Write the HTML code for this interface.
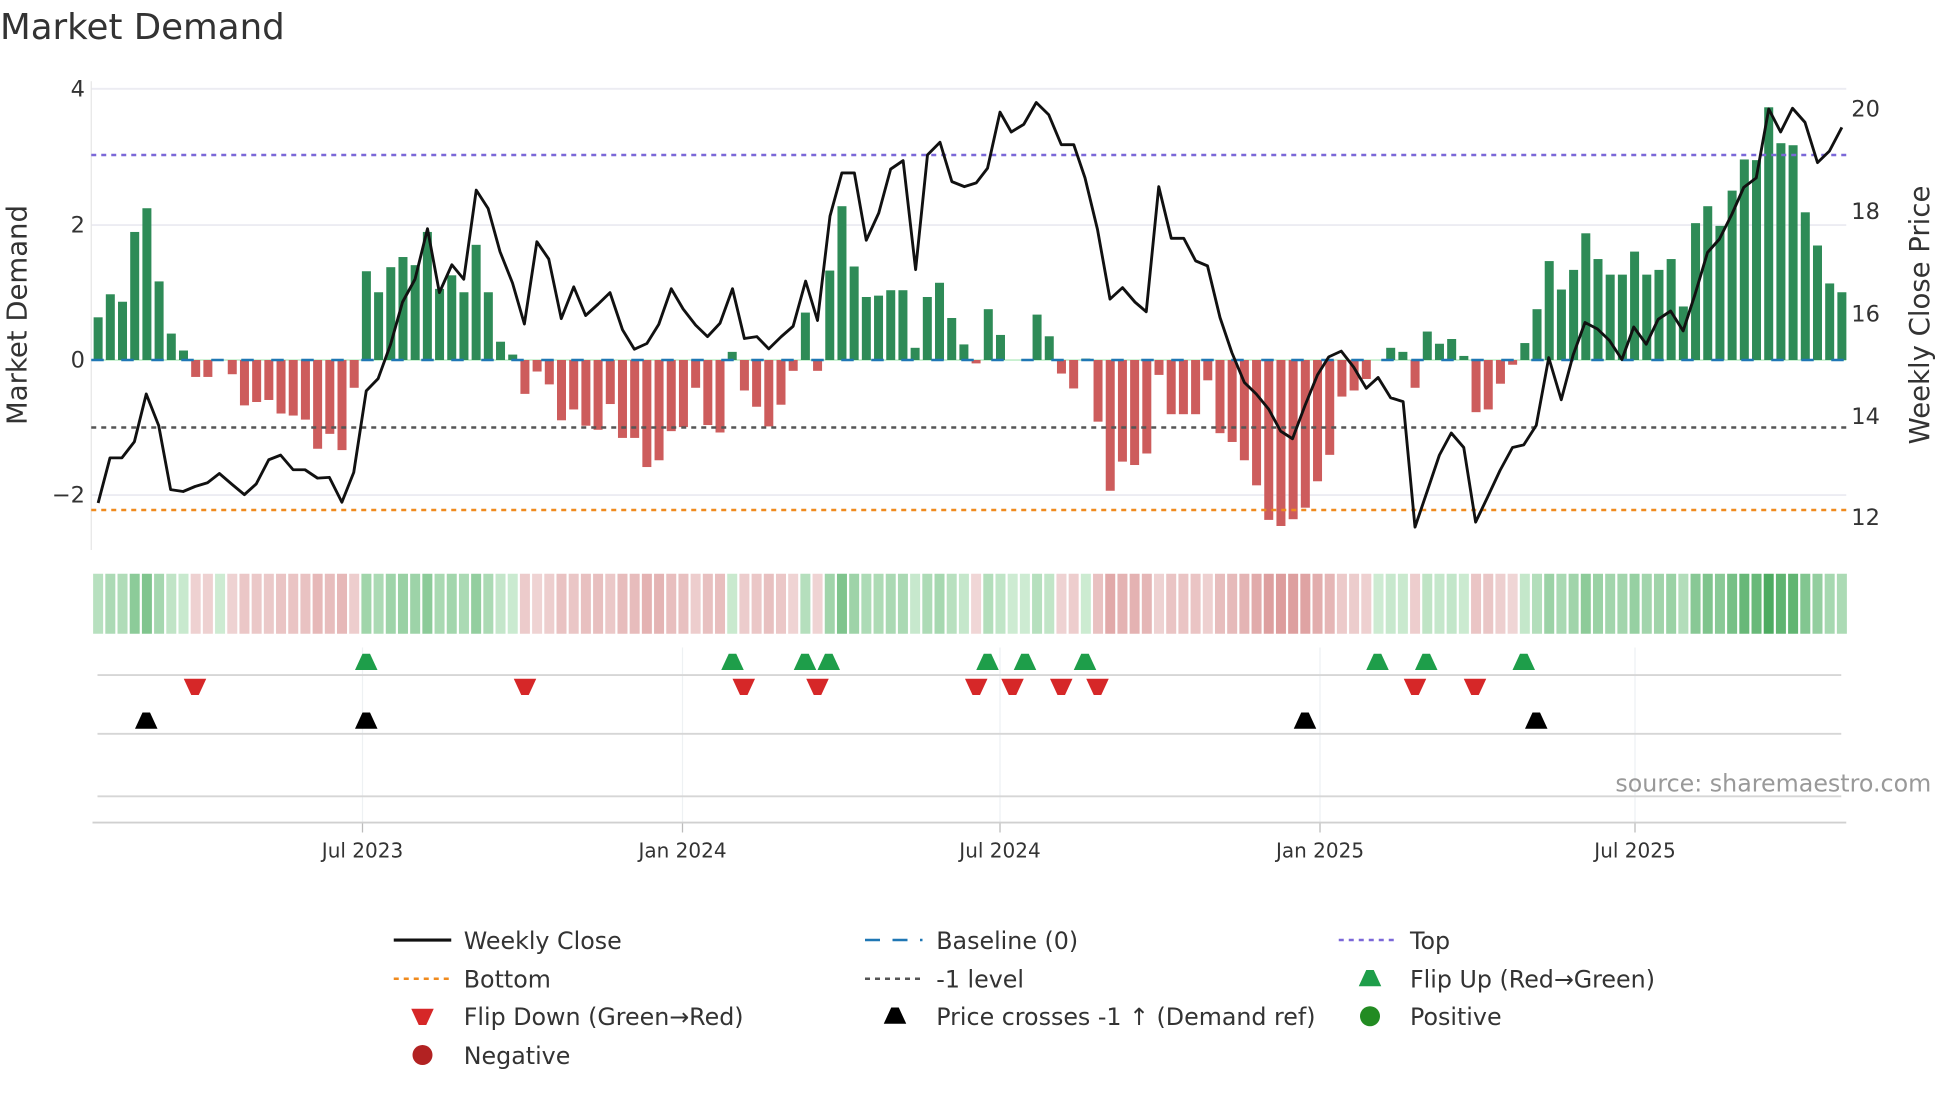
<!DOCTYPE html>
<html><head><meta charset="utf-8"><style>
html,body{margin:0;padding:0;background:#fff;}
svg{display:block;font-family:"DejaVu Sans","Liberation Sans",sans-serif;}
</style></head><body>
<svg id="s" width="1960" height="1102" viewBox="0 0 1568 881.6" xmlns="http://www.w3.org/2000/svg"></svg>
<script>
var s=document.getElementById('s');var h='';
function T(x,y,t,sz,fill,anch,extra){h+='<text x="'+x+'" y="'+y+'" font-size="'+sz+'" fill="'+(fill||'#333')+'" text-anchor="'+(anch||'start')+'" '+(extra||'')+'>'+t+'</text>';}
function L(x1,y1,x2,y2,st,w,da){h+='<line x1="'+x1+'" y1="'+y1+'" x2="'+x2+'" y2="'+y2+'" stroke="'+st+'" stroke-width="'+(w||1)+'"'+(da?' stroke-dasharray="'+da+'"':'')+'/>';}
T(0,31,'Market Demand',28.5,'#333');
[71,180,396].forEach(function(y){L(73,y,1477,y,'#ececf2',1.5);});
L(73,65,73,440,'#e6e6e6',1);
var vals=[0.63,0.97,0.86,1.89,2.24,1.16,0.39,0.14,-0.25,-0.25,0,-0.21,-0.67,-0.62,-0.59,-0.79,-0.82,-0.88,-1.31,-1.09,-1.33,-0.41,
1.31,1.0,1.37,1.52,1.4,1.89,1.05,1.25,1.0,1.7,1.0,0.27,0.08,
-0.5,-0.17,-0.36,-0.89,-0.73,-0.97,-1.03,-0.65,-1.15,-1.15,-1.58,-1.48,-1.05,-0.99,-0.41,-0.96,-1.07,
0.12,-0.45,-0.69,-0.98,-0.66,-0.16,
0.7,-0.16,1.32,2.27,1.38,0.93,0.95,1.03,1.03,0.18,0.93,1.14,0.62,0.23,-0.05,
0.75,0.37,0,0,0.67,0.35,-0.2,-0.42,0.02,-0.91,-1.93,-1.5,-1.55,-1.38,-0.22,-0.8,-0.8,-0.8,-0.3,-1.08,-1.21,-1.48,-1.85,-2.36,-2.45,-2.35,-2.18,-1.79,-1.4,-0.54,-0.45,-0.28,0,0.18,0.12,-0.41,0.42,0.24,0.31,0.06,-0.77,-0.73,-0.35,-0.07,0.25,0.75,1.46,1.04,1.33,1.87,1.49,1.26,1.26,1.6,1.26,1.33,1.49,0.79,2.02,2.27,1.98,2.5,2.96,2.95,3.73,3.2,3.17,2.18,1.69,1.13,1.0];
var n=vals.length,x0=78.5,step=1395/(n-1),Y0=288,U=54.2;
L(73,Y0,1477,Y0,'#c8f0d0',1.5);
for(var i=0;i<n;i++){var v=vals[i],x=x0+i*step,y=Y0-v*U;
 var c=v>=0?'#2e8b57':'#cd5c5c';
 if(Math.abs(v)>0.005)h+='<rect x="'+(x-3.6)+'" y="'+Math.min(y,Y0)+'" width="7.2" height="'+Math.abs(v*U)+'" fill="'+c+'"/>';
 var a=Math.min(Math.abs(v)/3.8,1);var col;
 if(v>=0){var r=Math.round(205-a*130),g=Math.round(235-a*65),b=Math.round(210-a*115);col='rgb('+r+','+g+','+b+')';}
 else{var r=Math.round(240-a*30),g=Math.round(215-a*90),b=Math.round(215-a*90);col='rgb('+r+','+g+','+b+')';}
 h+='<rect x="'+(x-4)+'" y="459" width="8" height="48" fill="'+col+'"/>';
}
L(73,Y0,1477,Y0,'#1f77b4',2,'10,14');
L(73,124,1477,124,'#7b68d8',2,'4,4');
L(73,342,1477,342,'#555',2,'4,4');
L(73,408,1477,408,'#ef8a1e',2,'4,4');
var lp=[[157,1315],[176,1197],[195,1197],[215,1155],[234,1030],[254,1113],[273,1280],[293,1285],[312,1272],[332,1262],[351,1238],[371,1266],[391,1293],[410,1265],[430,1202],[449,1190],[469,1228],[488,1228],[508,1250],[527,1248],[547,1313],[566,1235],[586,1022],[605,990],[625,900],[644,790],[664,730],[684,598],[703,765],[723,692],[742,730],[762,497],[781,545],[800,658],[820,740],[839,847],[859,632],[878,677],[898,833],[918,750],[937,825],[957,795],[976,765],[996,862],[1015,913],[1035,898],[1054,848],[1074,755],[1093,808],[1113,850],[1132,880],[1152,845],[1172,755],[1191,885],[1211,880],[1230,912],[1250,880],[1269,853],[1289,735],[1308,838],[1328,565],[1347,452],[1367,452],[1386,628],[1406,557],[1425,442],[1445,420],[1465,705],[1484,405],[1504,372],[1523,475],[1543,488],[1562,478]];
var rp=[[12,440],[32,293],[50,345],[70,325],[90,268],[110,300],[130,378],[150,378],[168,465],[188,600],[208,782],[228,752],[248,790],[266,815],[286,488],[306,623],[326,623],[345,682],[364,695],[384,830],[403,922],[423,1000],[442,1030],[462,1070],[481,1127],[500,1147],[520,1060],[540,980],[558,933],[578,918],[598,960],[618,1015],[637,987],[657,1040],[677,1050],[696,1378],[716,1282],[735,1190],[754,1132],[774,1170],[793,1365],[812,1300],[832,1230],[852,1170],[870,1163],[890,1112],[910,935],[930,1045],[949,928],[968,843],[988,860],[1007,890],[1027,940],[1046,855],[1066,900],[1085,835],[1105,813],[1125,865],[1144,770],[1164,660],[1183,625],[1203,560],[1222,490],[1242,465],[1262,285],[1281,345],[1300,283],[1320,320],[1340,425],[1359,395],[1379,333]];
var pts=lp.map(function(p){return (p[0]*0.5).toFixed(1)+','+(p[1]*0.306).toFixed(1);}).concat(rp.map(function(p){return (784+p[0]*0.5).toFixed(1)+','+(p[1]*0.306).toFixed(1);}));
h+='<polyline points="'+pts.join(' ')+'" fill="none" stroke="#111" stroke-width="2.3" stroke-linejoin="round"/>';
[[4,71],[2,180],[0,288],['−2',396]].forEach(function(a){T(68,a[1]+6,a[0],18,'#333','end');});
[[20,87],[18,169],[16,251],[14,333],[12,414]].forEach(function(a){T(1481,a[1]+6,a[0],18,'#333','start');});
T(0,0,'Market Demand',22,'#333','middle','transform="translate(21,252) rotate(-90)"');
T(0,0,'Weekly Close Price',22,'#333','middle','transform="translate(1543,252) rotate(-90)"');
var dx=[290,546,800,1056,1308],dl=['Jul 2023','Jan 2024','Jul 2024','Jan 2025','Jul 2025'];
dx.forEach(function(x,i){L(x,518,x,658,'#eef1f3',1);L(x,658,x,666,'#bbb',1);T(x,686,dl[i],16,'#333','middle');});
L(78,540,1473,540,'#d6d6d6',1.5);L(78,587,1473,587,'#d6d6d6',1.5);L(78,637,1473,637,'#d6d6d6',1.5);L(74,658,1477,658,'#d0d0d0',1.5);
function up(x,y,c){h+='<polygon points="'+(x-9)+','+(y+6)+' '+(x+9)+','+(y+6)+' '+(x+3)+','+(y-7)+' '+(x-3)+','+(y-7)+'" fill="'+c+'"/>';}
function dn(x,y,c){h+='<polygon points="'+(x-9)+','+(y-6)+' '+(x+9)+','+(y-6)+' '+(x+3)+','+(y+7)+' '+(x-3)+','+(y+7)+'" fill="'+c+'"/>';}
[293,586,644,663,790,820,868,1102,1141,1219].forEach(function(x){up(x,530,'#1e9e4a');});
[156,420,595,654,781,810,849,878,1132,1180].forEach(function(x){dn(x,549,'#d62728');});
[117,293,1044,1229].forEach(function(x){up(x,577,'#000');});
T(1545,633,'source: sharemaestro.com',19,'#999','end');
L(315,752,361,752,'#111',2.5);T(371,759,'Weekly Close',19);
L(692,752,738,752,'#1f77b4',2,'12,10');T(749,759,'Baseline (0)',19);
L(1071,752,1117,752,'#7b68d8',2,'4,4');T(1128,759,'Top',19);
L(315,783,361,783,'#ef8a1e',2,'4,4');T(371,790,'Bottom',19);
L(692,783,738,783,'#555',2,'4,4');T(749,790,'-1 level',19);
up(1096,783,'#1e9e4a');T(1128,790,'Flip Up (Red→Green)',19);
dn(338,813,'#d62728');T(371,820,'Flip Down (Green→Red)',19);
up(716,813,'#000');T(749,820,'Price crosses -1 ↑ (Demand ref)',19);
h+='<circle cx="1096" cy="813" r="8" fill="#228b22"/>';T(1128,820,'Positive',19);
h+='<circle cx="338" cy="844" r="8" fill="#b22222"/>';T(371,851,'Negative',19);
s.innerHTML=h;
</script>
</body></html>
